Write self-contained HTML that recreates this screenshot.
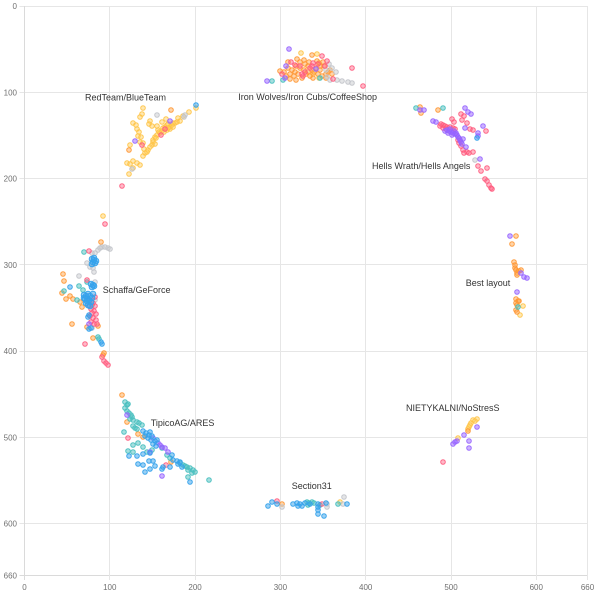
<!DOCTYPE html>
<html><head><meta charset="utf-8"><style>
html,body{margin:0;padding:0;background:#fff;}
svg{display:block;}
.gl{stroke:#e6e6e6;stroke-width:1;}
.ax{stroke:#dadada;stroke-width:1;}
.tk{font-family:"Liberation Sans",sans-serif;font-size:8px;fill:#707070;}
.lb{font-family:"Liberation Sans",sans-serif;font-size:9px;fill:#333;}
circle{stroke-width:1;}
.y circle{fill:rgba(255,205,86,.45);stroke:rgba(255,195,70,.9);}
.o circle{fill:rgba(255,159,64,.45);stroke:rgba(255,150,50,.9);}
.r circle{fill:rgba(255,99,132,.45);stroke:rgba(255,90,125,.9);}
.b circle{fill:rgba(54,162,235,.5);stroke:rgba(54,162,235,.95);}
.p circle{fill:rgba(153,102,255,.5);stroke:rgba(150,100,255,.9);}
.t circle{fill:rgba(75,192,192,.5);stroke:rgba(75,192,192,.95);}
.g circle{fill:rgba(201,203,207,.5);stroke:rgba(195,197,202,.95);}
</style></head><body>
<svg width="600" height="594" viewBox="0 0 600 594" xmlns="http://www.w3.org/2000/svg">
<g>
<line class="gl" x1="19.5" y1="6.5" x2="587.5" y2="6.5"/>
<line class="gl" x1="19.5" y1="92.5" x2="587.5" y2="92.5"/>
<line class="gl" x1="19.5" y1="178.5" x2="587.5" y2="178.5"/>
<line class="gl" x1="19.5" y1="264.5" x2="587.5" y2="264.5"/>
<line class="gl" x1="19.5" y1="351.5" x2="587.5" y2="351.5"/>
<line class="gl" x1="19.5" y1="437.5" x2="587.5" y2="437.5"/>
<line class="gl" x1="19.5" y1="523.5" x2="587.5" y2="523.5"/>
<line class="ax" x1="19.5" y1="575.5" x2="587.5" y2="575.5"/>
<line class="ax" x1="24.5" y1="6" x2="24.5" y2="580"/>
<line class="gl" x1="109.5" y1="6" x2="109.5" y2="580"/>
<line class="gl" x1="195.5" y1="6" x2="195.5" y2="580"/>
<line class="gl" x1="280.5" y1="6" x2="280.5" y2="580"/>
<line class="gl" x1="365.5" y1="6" x2="365.5" y2="580"/>
<line class="gl" x1="451.5" y1="6" x2="451.5" y2="580"/>
<line class="gl" x1="536.5" y1="6" x2="536.5" y2="580"/>
<line class="gl" x1="587.5" y1="6" x2="587.5" y2="580"/>
</g>
<g class="tk" text-anchor="end">
<text x="17" y="9">0</text>
<text x="17" y="95.3">100</text>
<text x="17" y="181.5">200</text>
<text x="17" y="267.8">300</text>
<text x="17" y="354">400</text>
<text x="17" y="440.3">500</text>
<text x="17" y="526.6">600</text>
<text x="17" y="578.3">660</text>
</g>
<g class="tk" text-anchor="middle">
<text x="24.5" y="590">0</text>
<text x="109.8" y="590">100</text>
<text x="195.1" y="590">200</text>
<text x="280.4" y="590">300</text>
<text x="365.7" y="590">400</text>
<text x="451" y="590">500</text>
<text x="536.3" y="590">600</text>
<text x="587.5" y="590">660</text>
</g>

<!-- yellow -->
<g class="y">
<circle cx="196" cy="108" r="2.3"/><circle cx="189" cy="112" r="2.3"/><circle cx="143" cy="108" r="2.3"/><circle cx="142" cy="114" r="2.3"/><circle cx="140" cy="117" r="2.3"/><circle cx="133" cy="123" r="2.3"/><circle cx="136" cy="125" r="2.3"/><circle cx="137" cy="129" r="2.3"/><circle cx="139" cy="132" r="2.3"/><circle cx="138" cy="136" r="2.3"/><circle cx="141" cy="137" r="2.3"/><circle cx="140" cy="142" r="2.3"/><circle cx="143" cy="143" r="2.3"/><circle cx="130" cy="145" r="2.3"/><circle cx="144" cy="149" r="2.3"/><circle cx="145" cy="153" r="2.3"/><circle cx="148" cy="150" r="2.3"/><circle cx="127" cy="163" r="2.3"/><circle cx="130" cy="164" r="2.3"/><circle cx="133" cy="161" r="2.3"/><circle cx="137" cy="163" r="2.3"/><circle cx="140" cy="165" r="2.3"/><circle cx="133" cy="168" r="2.3"/><circle cx="129" cy="174" r="2.3"/><circle cx="157" cy="126" r="2.3"/><circle cx="158" cy="130" r="2.3"/><circle cx="160" cy="133" r="2.3"/><circle cx="163" cy="128" r="2.3"/><circle cx="165" cy="127" r="2.3"/><circle cx="167" cy="125" r="2.3"/><circle cx="168" cy="124" r="2.3"/><circle cx="170" cy="127" r="2.3"/><circle cx="172" cy="125" r="2.3"/><circle cx="173" cy="123" r="2.3"/><circle cx="175" cy="123" r="2.3"/><circle cx="177" cy="122" r="2.3"/><circle cx="180" cy="121" r="2.3"/><circle cx="153" cy="140" r="2.3"/><circle cx="155" cy="137" r="2.3"/><circle cx="157" cy="135" r="2.3"/><circle cx="159" cy="132" r="2.3"/><circle cx="162" cy="131" r="2.3"/><circle cx="153" cy="142" r="2.3"/><circle cx="152" cy="145" r="2.3"/><circle cx="167" cy="130" r="2.3"/><circle cx="170" cy="129" r="2.3"/><circle cx="173" cy="127" r="2.3"/><circle cx="166" cy="119" r="2.3"/><circle cx="150" cy="121" r="2.3"/><circle cx="149" cy="124" r="2.3"/><circle cx="152" cy="126" r="2.3"/><circle cx="162" cy="122" r="2.3"/><circle cx="178" cy="118" r="2.3"/><circle cx="183" cy="116" r="2.3"/><circle cx="156" cy="138" r="2.3"/><circle cx="164" cy="132" r="2.3"/><circle cx="168" cy="128" r="2.3"/><circle cx="155" cy="144" r="2.3"/><circle cx="150" cy="147" r="2.3"/><circle cx="147" cy="152" r="2.3"/><circle cx="143" cy="156" r="2.3"/>
<circle cx="301" cy="53" r="2.3"/><circle cx="317" cy="54" r="2.3"/><circle cx="313" cy="74" r="2.3"/><circle cx="319" cy="78" r="2.3"/>
<circle cx="340" cy="502" r="2.3"/>
<circle cx="523" cy="306" r="2.3"/><circle cx="520" cy="315" r="2.3"/>
<circle cx="477" cy="419" r="2.3"/><circle cx="473" cy="420" r="2.3"/><circle cx="471" cy="423" r="2.3"/><circle cx="470" cy="425" r="2.3"/><circle cx="469" cy="427" r="2.3"/><circle cx="468" cy="429" r="2.3"/><circle cx="475" cy="421" r="2.3"/><circle cx="458" cy="438" r="2.3"/>
<circle cx="103" cy="216" r="2.3"/>
</g>

<!-- orange -->
<g class="o">
<circle cx="171" cy="110" r="2.3"/><circle cx="129" cy="150" r="2.3"/>
<circle cx="312" cy="55" r="2.3"/><circle cx="297" cy="59" r="2.3"/><circle cx="304" cy="60" r="2.3"/><circle cx="309" cy="62" r="2.3"/><circle cx="319" cy="63" r="2.3"/><circle cx="280" cy="71" r="2.3"/><circle cx="313" cy="78" r="2.3"/><circle cx="288" cy="68" r="2.3"/><circle cx="292" cy="70" r="2.3"/><circle cx="296" cy="66" r="2.3"/><circle cx="300" cy="68" r="2.3"/><circle cx="304" cy="70" r="2.3"/><circle cx="308" cy="66" r="2.3"/><circle cx="312" cy="70" r="2.3"/><circle cx="316" cy="68" r="2.3"/><circle cx="320" cy="70" r="2.3"/><circle cx="324" cy="66" r="2.3"/><circle cx="328" cy="72" r="2.3"/><circle cx="290" cy="74" r="2.3"/><circle cx="294" cy="76" r="2.3"/><circle cx="298" cy="74" r="2.3"/><circle cx="306" cy="74" r="2.3"/><circle cx="310" cy="76" r="2.3"/><circle cx="314" cy="72" r="2.3"/><circle cx="318" cy="74" r="2.3"/><circle cx="322" cy="76" r="2.3"/><circle cx="326" cy="74" r="2.3"/><circle cx="330" cy="70" r="2.3"/><circle cx="300" cy="62" r="2.3"/><circle cx="305" cy="64" r="2.3"/><circle cx="320" cy="66" r="2.3"/><circle cx="295" cy="72" r="2.3"/><circle cx="286" cy="76" r="2.3"/><circle cx="317" cy="61" r="2.3"/><circle cx="323" cy="62" r="2.3"/><circle cx="302" cy="78" r="2.3"/><circle cx="296" cy="80" r="2.3"/><circle cx="290" cy="79" r="2.3"/><circle cx="326" cy="78" r="2.3"/><circle cx="332" cy="74" r="2.3"/><circle cx="308" cy="72" r="2.3"/><circle cx="284" cy="72" r="2.3"/><circle cx="288" cy="62" r="2.3"/>
<circle cx="420" cy="107" r="2.3"/><circle cx="421" cy="113" r="2.3"/><circle cx="438" cy="110" r="2.3"/>
<circle cx="101" cy="242" r="2.3"/><circle cx="63" cy="274" r="2.3"/><circle cx="64" cy="281" r="2.3"/><circle cx="62" cy="293" r="2.3"/><circle cx="70" cy="296" r="2.3"/><circle cx="66" cy="299" r="2.3"/><circle cx="73" cy="299" r="2.3"/><circle cx="80" cy="302" r="2.3"/><circle cx="82" cy="307" r="2.3"/><circle cx="72" cy="324" r="2.3"/><circle cx="87" cy="327" r="2.3"/><circle cx="98" cy="326" r="2.3"/><circle cx="93" cy="338" r="2.3"/><circle cx="104" cy="353" r="2.3"/><circle cx="103" cy="355" r="2.3"/>
<circle cx="122" cy="395" r="2.3"/><circle cx="127" cy="422" r="2.3"/><circle cx="143" cy="437" r="2.3"/><circle cx="138" cy="434" r="2.3"/><circle cx="171" cy="462" r="2.3"/>
<circle cx="282" cy="504" r="2.3"/>
<circle cx="516" cy="236" r="2.3"/><circle cx="512" cy="244" r="2.3"/><circle cx="514" cy="262" r="2.3"/><circle cx="515" cy="265" r="2.3"/><circle cx="515" cy="268" r="2.3"/><circle cx="516" cy="270" r="2.3"/><circle cx="517" cy="273" r="2.3"/><circle cx="519" cy="271" r="2.3"/><circle cx="517" cy="275" r="2.3"/><circle cx="521" cy="270" r="2.3"/><circle cx="516" cy="299" r="2.3"/><circle cx="518" cy="301" r="2.3"/><circle cx="519" cy="301" r="2.3"/><circle cx="517" cy="305" r="2.3"/><circle cx="516" cy="310" r="2.3"/><circle cx="517" cy="312" r="2.3"/><circle cx="516" cy="303" r="2.3"/>
<circle cx="468" cy="431" r="2.3"/>
</g>

<!-- gray -->
<g class="g">
<circle cx="185" cy="115" r="2.3"/><circle cx="184" cy="117" r="2.3"/><circle cx="157" cy="115" r="2.3"/><circle cx="132" cy="169" r="2.3"/>
<circle cx="329" cy="64" r="2.3"/><circle cx="336" cy="72" r="2.3"/><circle cx="327" cy="77" r="2.3"/><circle cx="330" cy="80" r="2.3"/><circle cx="337" cy="80" r="2.3"/><circle cx="342" cy="81" r="2.3"/><circle cx="348" cy="82" r="2.3"/><circle cx="352" cy="83" r="2.3"/><circle cx="326" cy="70" r="2.3"/><circle cx="332" cy="68" r="2.3"/>
<circle cx="475" cy="160" r="2.3"/>
<circle cx="102" cy="247" r="2.3"/><circle cx="105" cy="247" r="2.3"/><circle cx="108" cy="248" r="2.3"/><circle cx="110" cy="249" r="2.3"/><circle cx="92" cy="253" r="2.3"/><circle cx="95" cy="253" r="2.3"/><circle cx="87" cy="263" r="2.3"/><circle cx="90" cy="267" r="2.3"/><circle cx="93" cy="268" r="2.3"/><circle cx="94" cy="272" r="2.3"/><circle cx="79" cy="276" r="2.3"/><circle cx="95" cy="282" r="2.3"/><circle cx="95" cy="300" r="2.3"/><circle cx="92" cy="328" r="2.3"/><circle cx="98" cy="250" r="2.3"/><circle cx="100" cy="248" r="2.3"/>
<circle cx="282" cy="507" r="2.3"/><circle cx="327" cy="504" r="2.3"/><circle cx="327" cy="507" r="2.3"/><circle cx="344" cy="497" r="2.3"/><circle cx="343" cy="504" r="2.3"/>
</g>

<!-- teal -->
<g class="t">
<circle cx="272" cy="81" r="2.3"/><circle cx="283" cy="80" r="2.3"/><circle cx="320" cy="78" r="2.3"/>
<circle cx="416" cy="108" r="2.3"/><circle cx="443" cy="108" r="2.3"/>
<circle cx="84" cy="252" r="2.3"/><circle cx="87" cy="282" r="2.3"/><circle cx="79" cy="286" r="2.3"/><circle cx="64" cy="291" r="2.3"/><circle cx="77" cy="300" r="2.3"/><circle cx="83" cy="290" r="2.3"/><circle cx="92" cy="305" r="2.3"/><circle cx="98" cy="337" r="2.3"/><circle cx="99" cy="339" r="2.3"/>
<circle cx="125" cy="402" r="2.3"/><circle cx="127" cy="405" r="2.3"/><circle cx="125" cy="408" r="2.3"/><circle cx="127" cy="411" r="2.3"/><circle cx="129" cy="413" r="2.3"/><circle cx="132" cy="417" r="2.3"/><circle cx="130" cy="419" r="2.3"/><circle cx="133" cy="420" r="2.3"/><circle cx="137" cy="422" r="2.3"/><circle cx="139" cy="423" r="2.3"/><circle cx="142" cy="425" r="2.3"/><circle cx="133" cy="426" r="2.3"/><circle cx="135" cy="428" r="2.3"/><circle cx="137" cy="429" r="2.3"/><circle cx="124" cy="432" r="2.3"/><circle cx="133" cy="445" r="2.3"/><circle cx="138" cy="443" r="2.3"/><circle cx="143" cy="447" r="2.3"/><circle cx="128" cy="451" r="2.3"/><circle cx="133" cy="452" r="2.3"/><circle cx="147" cy="452" r="2.3"/><circle cx="152" cy="450" r="2.3"/><circle cx="162" cy="448" r="2.3"/><circle cx="167" cy="455" r="2.3"/><circle cx="170" cy="458" r="2.3"/><circle cx="183" cy="465" r="2.3"/><circle cx="187" cy="467" r="2.3"/><circle cx="190" cy="468" r="2.3"/><circle cx="193" cy="470" r="2.3"/><circle cx="195" cy="472" r="2.3"/><circle cx="180" cy="463" r="2.3"/><circle cx="185" cy="466" r="2.3"/><circle cx="188" cy="470" r="2.3"/><circle cx="192" cy="473" r="2.3"/><circle cx="188" cy="477" r="2.3"/><circle cx="209" cy="480" r="2.3"/><circle cx="128" cy="404" r="2.3"/><circle cx="131" cy="415" r="2.3"/>
<circle cx="307" cy="502" r="2.3"/><circle cx="309" cy="503" r="2.3"/><circle cx="312" cy="502" r="2.3"/><circle cx="314" cy="503" r="2.3"/><circle cx="308" cy="505" r="2.3"/><circle cx="320" cy="505" r="2.3"/><circle cx="338" cy="504" r="2.3"/>
<circle cx="518" cy="307" r="2.3"/>
</g>

<!-- red -->
<g class="r">
<circle cx="142" cy="145" r="2.3"/><circle cx="161" cy="135" r="2.3"/><circle cx="165" cy="129" r="2.3"/><circle cx="122" cy="186" r="2.3"/>
<circle cx="322" cy="56" r="2.3"/><circle cx="327" cy="61" r="2.3"/><circle cx="291" cy="62" r="2.3"/><circle cx="313" cy="63" r="2.3"/><circle cx="312" cy="66" r="2.3"/><circle cx="352" cy="68" r="2.3"/><circle cx="333" cy="79" r="2.3"/><circle cx="363" cy="86" r="2.3"/><circle cx="282" cy="74" r="2.3"/><circle cx="302" cy="74" r="2.3"/><circle cx="303" cy="76" r="2.3"/><circle cx="300" cy="66" r="2.3"/><circle cx="310" cy="68" r="2.3"/><circle cx="318" cy="64" r="2.3"/><circle cx="305" cy="72" r="2.3"/><circle cx="325" cy="66" r="2.3"/><circle cx="295" cy="65" r="2.3"/>
<circle cx="461" cy="114" r="2.3"/><circle cx="464" cy="116" r="2.3"/><circle cx="462" cy="120" r="2.3"/><circle cx="467" cy="123" r="2.3"/><circle cx="452" cy="119" r="2.3"/><circle cx="454" cy="122" r="2.3"/><circle cx="440" cy="126" r="2.3"/><circle cx="443" cy="125" r="2.3"/><circle cx="445" cy="126" r="2.3"/><circle cx="447" cy="127" r="2.3"/><circle cx="450" cy="127" r="2.3"/><circle cx="453" cy="128" r="2.3"/><circle cx="455" cy="129" r="2.3"/><circle cx="443" cy="128" r="2.3"/><circle cx="446" cy="129" r="2.3"/><circle cx="441" cy="124" r="2.3"/><circle cx="470" cy="129" r="2.3"/><circle cx="473" cy="130" r="2.3"/><circle cx="486" cy="131" r="2.3"/><circle cx="459" cy="143" r="2.3"/><circle cx="461" cy="146" r="2.3"/><circle cx="463" cy="150" r="2.3"/><circle cx="467" cy="152" r="2.3"/><circle cx="469" cy="153" r="2.3"/><circle cx="473" cy="152" r="2.3"/><circle cx="478" cy="166" r="2.3"/><circle cx="481" cy="171" r="2.3"/><circle cx="487" cy="168" r="2.3"/><circle cx="485" cy="179" r="2.3"/><circle cx="487" cy="181" r="2.3"/><circle cx="489" cy="185" r="2.3"/><circle cx="491" cy="188" r="2.3"/><circle cx="492" cy="189" r="2.3"/><circle cx="464" cy="153" r="2.3"/><circle cx="458" cy="140" r="2.3"/>
<circle cx="105" cy="224" r="2.3"/><circle cx="89" cy="251" r="2.3"/><circle cx="87" cy="280" r="2.3"/><circle cx="85" cy="344" r="2.3"/><circle cx="102" cy="357" r="2.3"/><circle cx="104" cy="361" r="2.3"/><circle cx="106" cy="363" r="2.3"/><circle cx="108" cy="365" r="2.3"/><circle cx="90" cy="300" r="2.3"/><circle cx="93" cy="303" r="2.3"/><circle cx="95" cy="306" r="2.3"/><circle cx="91" cy="309" r="2.3"/><circle cx="94" cy="311" r="2.3"/><circle cx="96" cy="314" r="2.3"/><circle cx="90" cy="316" r="2.3"/><circle cx="93" cy="318" r="2.3"/><circle cx="96" cy="320" r="2.3"/><circle cx="91" cy="322" r="2.3"/><circle cx="94" cy="324" r="2.3"/><circle cx="97" cy="324" r="2.3"/><circle cx="92" cy="313" r="2.3"/><circle cx="95" cy="297" r="2.3"/><circle cx="89" cy="306" r="2.3"/>
<circle cx="128" cy="438" r="2.3"/><circle cx="166" cy="465" r="2.3"/>
<circle cx="277" cy="501" r="2.3"/><circle cx="322" cy="504" r="2.3"/>
<circle cx="443" cy="462" r="2.3"/>
</g>

<!-- purple -->
<g class="p">
<circle cx="135" cy="141" r="2.3"/><circle cx="170" cy="121" r="2.3"/>
<circle cx="289" cy="49" r="2.3"/><circle cx="286" cy="66" r="2.3"/><circle cx="316" cy="69" r="2.3"/><circle cx="267" cy="81" r="2.3"/><circle cx="285" cy="78" r="2.3"/>
<circle cx="420" cy="110" r="2.3"/><circle cx="424" cy="110" r="2.3"/><circle cx="465" cy="108" r="2.3"/><circle cx="468" cy="112" r="2.3"/><circle cx="471" cy="114" r="2.3"/><circle cx="433" cy="121" r="2.3"/><circle cx="436" cy="122" r="2.3"/><circle cx="465" cy="128" r="2.3"/><circle cx="463" cy="139" r="2.3"/><circle cx="462" cy="144" r="2.3"/><circle cx="466" cy="147" r="2.3"/><circle cx="483" cy="126" r="2.3"/><circle cx="478" cy="133" r="2.3"/><circle cx="478" cy="136" r="2.3"/><circle cx="480" cy="159" r="2.3"/>
<circle cx="447" cy="130" r="2.3"/><circle cx="449" cy="131" r="2.3"/><circle cx="451" cy="132" r="2.3"/><circle cx="453" cy="133" r="2.3"/><circle cx="455" cy="134" r="2.3"/><circle cx="457" cy="135" r="2.3"/><circle cx="458" cy="137" r="2.3"/><circle cx="450" cy="129" r="2.3"/><circle cx="454" cy="131" r="2.3"/><circle cx="456" cy="133" r="2.3"/><circle cx="459" cy="138" r="2.3"/><circle cx="460" cy="140" r="2.3"/><circle cx="461" cy="142" r="2.3"/><circle cx="452" cy="135" r="2.3"/><circle cx="448" cy="133" r="2.3"/><circle cx="445" cy="131" r="2.3"/>
<circle cx="89" cy="324" r="2.3"/>
<circle cx="127" cy="415" r="2.3"/><circle cx="153" cy="438" r="2.3"/><circle cx="158" cy="443" r="2.3"/><circle cx="162" cy="447" r="2.3"/><circle cx="165" cy="448" r="2.3"/><circle cx="150" cy="452" r="2.3"/><circle cx="168" cy="452" r="2.3"/><circle cx="162" cy="476" r="2.3"/><circle cx="160" cy="445" r="2.3"/>
<circle cx="510" cy="236" r="2.3"/><circle cx="521" cy="273" r="2.3"/><circle cx="524" cy="277" r="2.3"/><circle cx="527" cy="278" r="2.3"/><circle cx="517" cy="292" r="2.3"/>
<circle cx="477" cy="427" r="2.3"/><circle cx="464" cy="435" r="2.3"/><circle cx="457" cy="441" r="2.3"/><circle cx="455" cy="442" r="2.3"/><circle cx="453" cy="444" r="2.3"/><circle cx="469" cy="441" r="2.3"/><circle cx="469" cy="448" r="2.3"/>
</g>

<!-- blue -->
<g class="b">
<circle cx="196" cy="105" r="2.3"/>
<circle cx="477" cy="138" r="2.3"/>
<circle cx="70" cy="287" r="2.3"/><circle cx="88" cy="317" r="2.3"/><circle cx="89" cy="315" r="2.3"/><circle cx="89" cy="329" r="2.3"/><circle cx="91" cy="328" r="2.3"/><circle cx="101" cy="342" r="2.3"/><circle cx="102" cy="344" r="2.3"/>
<circle cx="92" cy="259" r="2.8"/><circle cx="94" cy="260" r="2.8"/><circle cx="96" cy="261" r="2.8"/><circle cx="93" cy="262" r="2.8"/><circle cx="95" cy="263" r="2.8"/><circle cx="92" cy="264" r="2.8"/><circle cx="94" cy="258" r="2.8"/><circle cx="91" cy="284" r="2.8"/><circle cx="93" cy="285" r="2.8"/><circle cx="92" cy="287" r="2.8"/><circle cx="94" cy="286" r="2.8"/><circle cx="84" cy="295" r="2.8"/><circle cx="86" cy="296" r="2.8"/><circle cx="88" cy="294" r="2.8"/><circle cx="90" cy="296" r="2.8"/><circle cx="92" cy="298" r="2.8"/><circle cx="85" cy="299" r="2.8"/><circle cx="87" cy="301" r="2.8"/><circle cx="89" cy="300" r="2.8"/><circle cx="91" cy="302" r="2.8"/><circle cx="86" cy="303" r="2.8"/><circle cx="88" cy="305" r="2.8"/><circle cx="90" cy="306" r="2.8"/><circle cx="84" cy="298" r="2.8"/><circle cx="93" cy="294" r="2.8"/>
<circle cx="143" cy="431" r="2.3"/><circle cx="146" cy="433" r="2.3"/><circle cx="149" cy="435" r="2.3"/><circle cx="152" cy="436" r="2.3"/><circle cx="148" cy="438" r="2.3"/><circle cx="151" cy="440" r="2.3"/><circle cx="155" cy="441" r="2.3"/><circle cx="145" cy="436" r="2.3"/><circle cx="150" cy="432" r="2.3"/><circle cx="157" cy="440" r="2.3"/><circle cx="153" cy="444" r="2.3"/><circle cx="156" cy="446" r="2.3"/><circle cx="129" cy="456" r="2.3"/><circle cx="137" cy="456" r="2.3"/><circle cx="143" cy="454" r="2.3"/><circle cx="150" cy="453" r="2.3"/><circle cx="172" cy="455" r="2.3"/><circle cx="173" cy="460" r="2.3"/><circle cx="177" cy="461" r="2.3"/><circle cx="180" cy="462" r="2.3"/><circle cx="149" cy="461" r="2.3"/><circle cx="153" cy="461" r="2.3"/><circle cx="155" cy="466" r="2.3"/><circle cx="163" cy="467" r="2.3"/><circle cx="162" cy="469" r="2.3"/><circle cx="138" cy="464" r="2.3"/><circle cx="143" cy="465" r="2.3"/><circle cx="150" cy="469" r="2.3"/><circle cx="145" cy="472" r="2.3"/><circle cx="170" cy="467" r="2.3"/><circle cx="182" cy="467" r="2.3"/><circle cx="178" cy="464" r="2.3"/><circle cx="190" cy="482" r="2.3"/>
<circle cx="268" cy="506" r="2.3"/><circle cx="272" cy="502" r="2.3"/><circle cx="277" cy="504" r="2.3"/><circle cx="293" cy="504" r="2.3"/><circle cx="297" cy="503" r="2.3"/><circle cx="300" cy="504" r="2.3"/><circle cx="302" cy="506" r="2.3"/><circle cx="305" cy="503" r="2.3"/><circle cx="318" cy="504" r="2.3"/><circle cx="318" cy="507" r="2.3"/><circle cx="318" cy="510" r="2.3"/><circle cx="326" cy="503" r="2.3"/><circle cx="318" cy="514" r="2.3"/><circle cx="324" cy="516" r="2.3"/><circle cx="347" cy="504" r="2.3"/><circle cx="310" cy="504" r="2.3"/><circle cx="298" cy="506" r="2.3"/>
</g>

<g class="lb">
<text x="85" y="100.3">RedTeam/BlueTeam</text>
<text x="238.3" y="100">Iron Wolves/Iron Cubs/CoffeeShop</text>
<text x="372" y="169">Hells Wrath/Hells Angels</text>
<text x="102.7" y="293">Schaffa/GeForce</text>
<text x="150.7" y="426">TipicoAG/ARES</text>
<text x="291.7" y="489.2">Section31</text>
<text x="465.7" y="286">Best layout</text>
<text x="406" y="411">NIETYKALNI/NoStresS</text>
</g>
</svg>
</body></html>
